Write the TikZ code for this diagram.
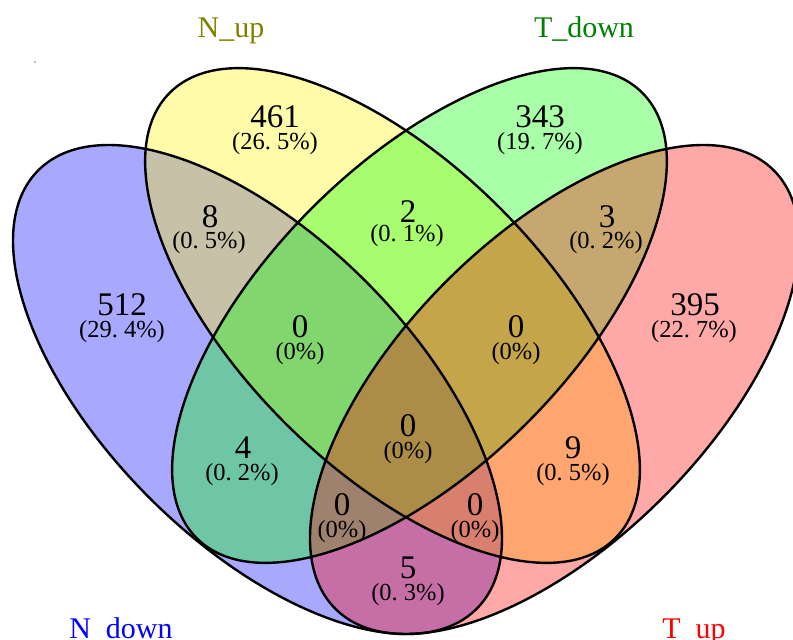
\documentclass[tikz,border=0pt]{standalone}
\usepackage{fontspec}
\setmainfont{Liberation Serif}
\definecolor{olivelab}{RGB}{128,128,0}
\definecolor{greenlab}{RGB}{0,128,0}
\begin{document}
\begin{tikzpicture}[x=1pt,y=1pt,
  setfill/.style={fill opacity=0.34},
  outline/.style={draw=black,line width=2.4pt},
  cnt/.style={font=\fontsize{33}{33}\selectfont, anchor=base, inner sep=0pt},
  pct/.style={font=\fontsize{24.5}{24.5}\selectfont, anchor=base, inner sep=0pt},
  setlabel/.style={font=\fontsize{30}{30}\selectfont, anchor=base, inner sep=0pt}]
\useasboundingbox (0,0) rectangle (793,-640);
\clip (0,0) rectangle (793,-640);
\coordinate (cB) at (257.5,-389.5);
\coordinate (cY) at (392.5,-315.5);
\coordinate (cG) at (419.5,-315.5);
\coordinate (cR) at (554.5,-389.5);
% fills
\fill[blue,setfill,rotate around={-45:(cB)}] (cB) ellipse [x radius=310pt,y radius=153pt];
\fill[yellow,setfill,rotate around={-45:(cY)}] (cY) ellipse [x radius=315pt,y radius=152pt];
\fill[green,setfill,rotate around={45:(cG)}] (cG) ellipse [x radius=315pt,y radius=152pt];
\fill[red,setfill,rotate around={45:(cR)}] (cR) ellipse [x radius=310pt,y radius=153pt];
% outlines
\draw[outline,rotate around={-45:(cB)}] (cB) ellipse [x radius=310pt,y radius=153pt];
\draw[outline,rotate around={-45:(cY)}] (cY) ellipse [x radius=315pt,y radius=152pt];
\draw[outline,rotate around={45:(cG)}] (cG) ellipse [x radius=315pt,y radius=152pt];
\draw[outline,rotate around={45:(cR)}] (cR) ellipse [x radius=310pt,y radius=153pt];
% stray dot
\fill[gray] (35,-62) circle (0.8pt);
% set labels
\node[setlabel,text=olivelab] (lNup) at (231,-37) {N\_up};
\node[setlabel,text=greenlab] (lTdown) at (584,-37) {T\_down};
\node[setlabel,text=blue] (lNdown) at (121,-638) {N\_down};
\node[setlabel,text=red] (lTup) at (694,-638) {T\_up};
% counts
\node[cnt] (n461) at (275,-127) {461};
\node[pct] (p461) at (275,-149) {(26.\kern0.25em5\%)};
\node[cnt] (n343) at (540,-127) {343};
\node[pct] (p343) at (540,-149) {(19.\kern0.25em7\%)};
\node[cnt] (n512) at (122,-315) {512};
\node[pct] (p512) at (122,-337) {(29.\kern0.25em4\%)};
\node[cnt] (n395) at (695,-315) {395};
\node[pct] (p395) at (694,-337) {(22.\kern0.25em7\%)};
\node[cnt] (n8) at (210,-227) {8};
\node[pct] (p8) at (209,-248) {(0.\kern0.25em5\%)};
\node[cnt] (n2) at (408,-222) {2};
\node[pct] (p2) at (407,-241) {(0.\kern0.25em1\%)};
\node[cnt] (n3) at (607,-227) {3};
\node[pct] (p3) at (606,-248) {(0.\kern0.25em2\%)};
\node[cnt] (n0l) at (300,-337) {0};
\node[pct] (p0l) at (300,-359) {(0\%)};
\node[cnt] (n0r) at (516,-337) {0};
\node[pct] (p0r) at (516,-359) {(0\%)};
\node[cnt] (n0c) at (408,-436) {0};
\node[pct] (p0c) at (408,-458) {(0\%)};
\node[cnt] (n4) at (243,-458) {4};
\node[pct] (p4) at (242,-480) {(0.\kern0.25em2\%)};
\node[cnt] (n9) at (573,-458) {9};
\node[pct] (p9) at (573,-480) {(0.\kern0.25em5\%)};
\node[cnt] (n0bl) at (342,-515) {0};
\node[pct] (p0bl) at (342,-537) {(0\%)};
\node[cnt] (n0br) at (475,-515) {0};
\node[pct] (p0br) at (475,-537) {(0\%)};
\node[cnt] (n5) at (408,-578) {5};
\node[pct] (p5) at (408,-600) {(0.\kern0.25em3\%)};
\end{tikzpicture}
\end{document}
